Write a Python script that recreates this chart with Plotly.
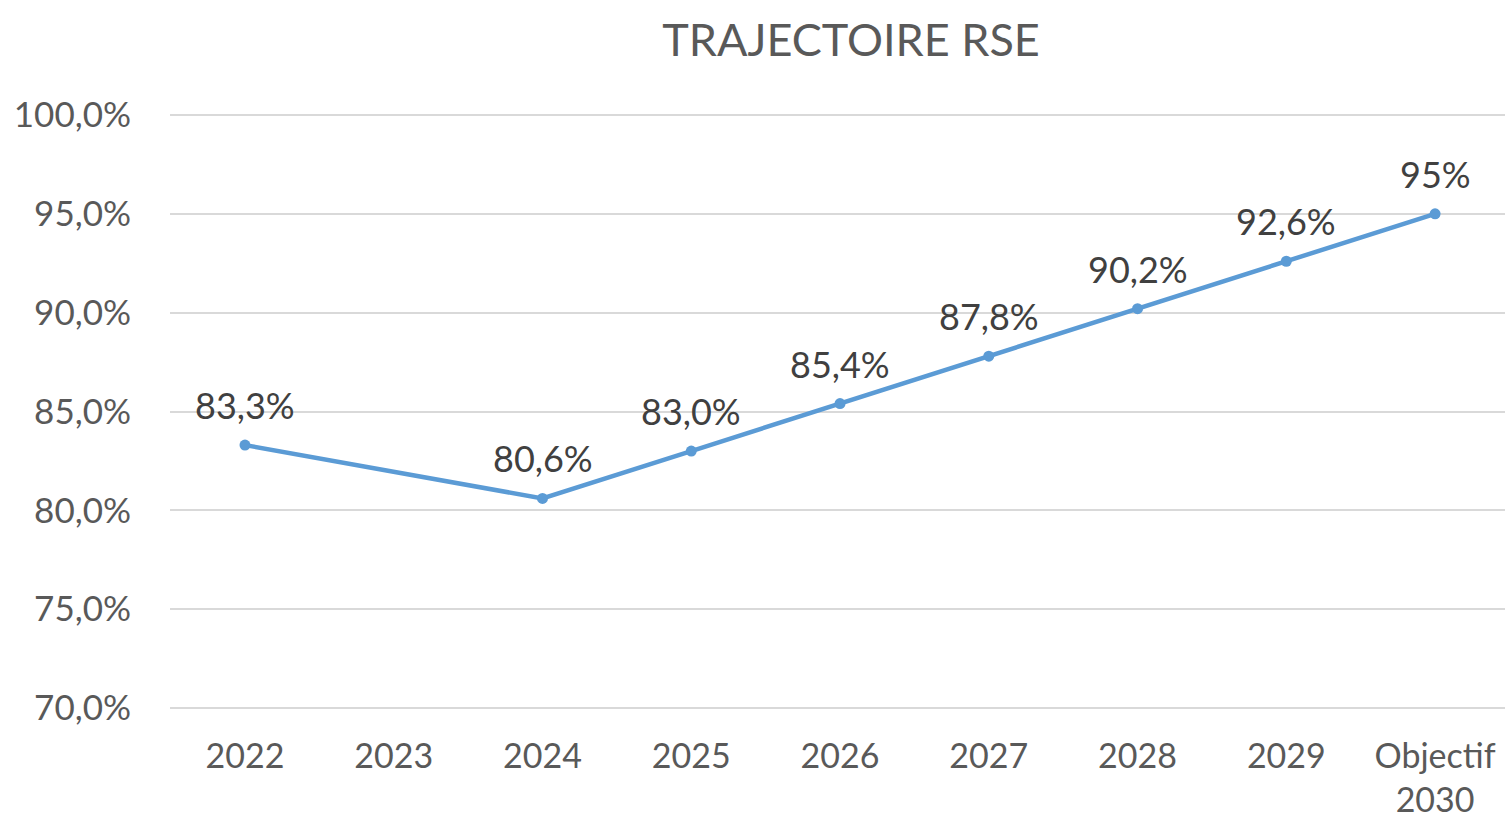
import plotly.graph_objects as go

categories = ["2022", "2023", "2024", "2025", "2026", "2027", "2028", "2029", "Objectif<br>2030"]
values = [83.3, None, 80.6, 83.0, 85.4, 87.8, 90.2, 92.6, 95.0]
labels = ["83,3%", "", "80,6%", "83,0%", "85,4%", "87,8%", "90,2%", "92,6%", "95%"]
y_ticks = [70, 75, 80, 85, 90, 95, 100]
y_tick_text = ["70,0%", "75,0%", "80,0%", "85,0%", "90,0%", "95,0%", "100,0%"]

FONT = "Lato"
x_idx = list(range(len(categories)))

fig = go.Figure()
fig.add_trace(go.Scatter(
    x=x_idx, y=values, mode="lines+markers",
    connectgaps=True,
    line=dict(color="#5B9BD5", width=4.5),
    marker=dict(color="#5B9BD5", size=11),
    cliponaxis=False, hoverinfo="skip",
))

for xi, v, lab in zip(x_idx, values, labels):
    if v is None:
        continue
    fig.add_annotation(
        x=xi, y=v, text=lab, showarrow=False, xanchor="center", yanchor="middle",
        yshift=40, font=dict(family=FONT, size=36, color="#404040"),
    )

fig.update_layout(
    width=1505, height=824,
    margin=dict(l=170, r=0, t=113, b=114, autoexpand=False),
    paper_bgcolor="white", plot_bgcolor="white",
    showlegend=False,
    title=dict(text="TRAJECTOIRE RSE", x=851/1505, xref="container", xanchor="center",
               y=1 - 40/824, yref="container", yanchor="middle",
               font=dict(family=FONT, size=45, color="#595959")),
    font=dict(family=FONT, color="#595959"),
)
fig.update_xaxes(
    range=[-0.504, 8.47], tickmode="array", tickvals=x_idx, ticktext=categories,
    showgrid=False, zeroline=False, showline=False, automargin=False,
    ticks="outside", ticklen=16, tickcolor="rgba(0,0,0,0)",
    tickfont=dict(family=FONT, size=34, color="#595959"),
)
fig.update_yaxes(
    range=[69.9, 100.1], tickmode="array", tickvals=y_ticks, ticktext=y_tick_text,
    showgrid=True, gridcolor="#D9D9D9", gridwidth=2, zeroline=False, showline=False,
    automargin=False,
    ticks="outside", ticklen=31, tickcolor="rgba(0,0,0,0)",
    tickfont=dict(family=FONT, size=35, color="#595959"),
)

fig.write_html("out.html", config={"displayModeBar": False},
               post_script="document.body.style.margin='0';")
